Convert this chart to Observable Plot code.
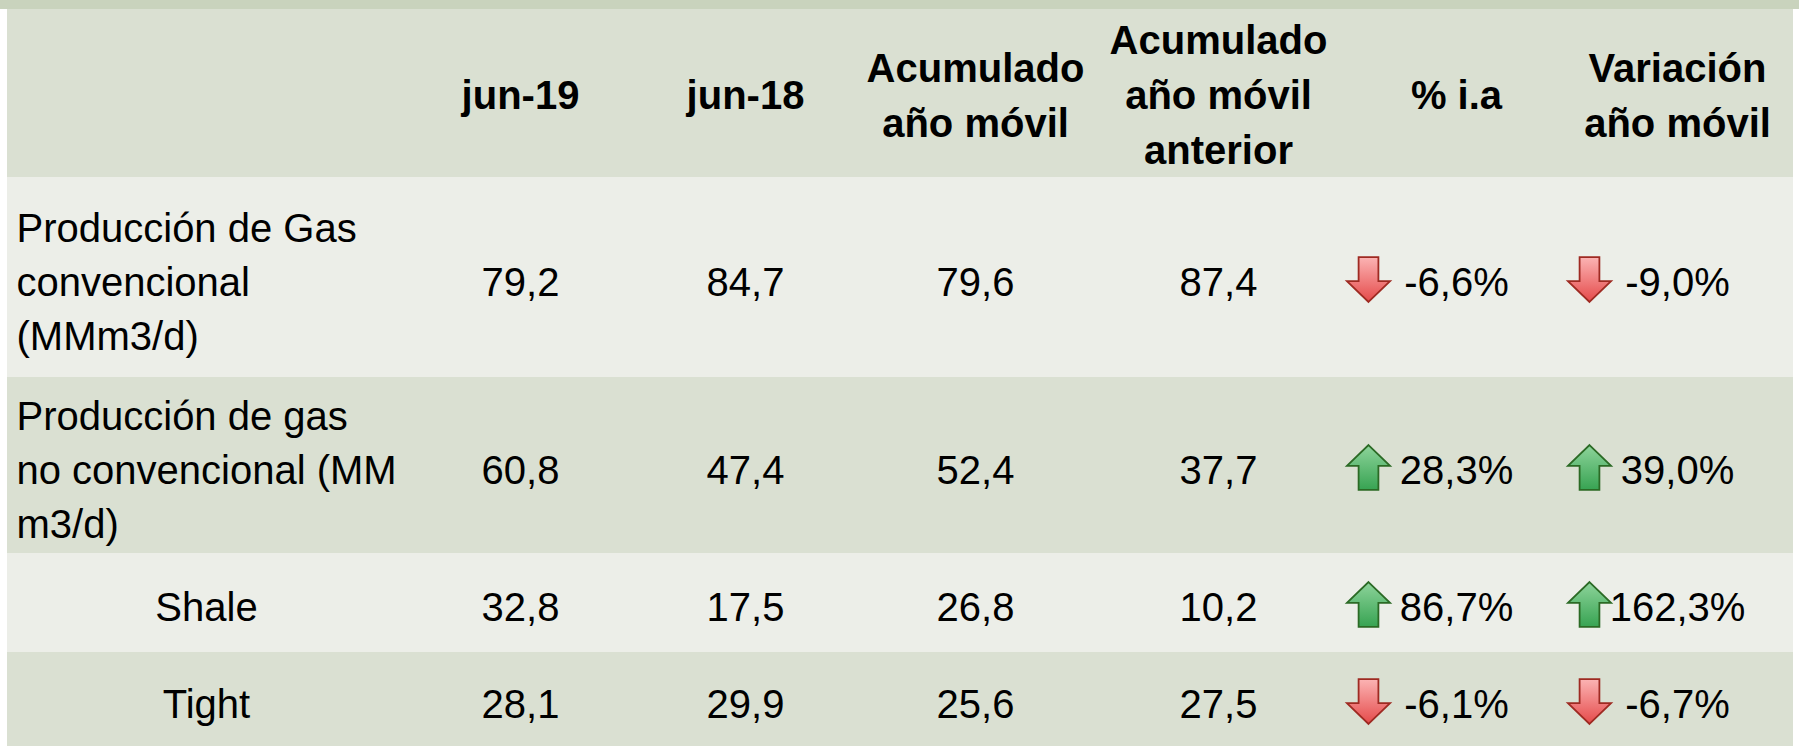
<!DOCTYPE html>
<html><head><meta charset="utf-8">
<script src="https://cdn.jsdelivr.net/npm/d3@7"></script>
<script src="https://cdn.jsdelivr.net/npm/@observablehq/plot@0.6"></script>
<style>
html,body{margin:0;padding:0;background:#fff;}
</style></head><body><div id="chart"></div>
<script>
// ---------- data ----------
const columnHeaders = ["", "jun-19", "jun-18", "Acumulado\naño móvil", "Acumulado\naño móvil\nanterior", "% i.a", "Variación\naño móvil"];
const rowLabels = ["Producción de Gas\nconvencional\n(MMm3/d)", "Producción de gas\nno convencional (MM\nm3/d)", "Shale", "Tight"];
const jun19 = [79.2, 60.8, 32.8, 28.1];
const jun18 = [84.7, 47.4, 17.5, 29.9];
const acumulado = [79.6, 52.4, 26.8, 25.6];
const acumuladoAnterior = [87.4, 37.7, 10.2, 27.5];
const pctIA = [-6.6, 28.3, 86.7, -6.1];
const variacionAnual = [-9.0, 39.0, 162.3, -6.7];

// ---------- layout ----------
const W = 1799, H = 746;
const tableX1 = 7, tableX2 = 1793;
const rowEdges = [9, 177, 377, 553, 652, 746];      // header + 4 rows
const rowTextY = [96, 283, 471, 608, 705];          // text middles (single-line)
const colCenters = [206, 520, 745, 975, 1218, 1456, 1677];
const labelLeft = 16;
const arrowDX = -88, arrowDY = -4;
const rowFills = ["#dae0d2", "#eceee8", "#dae0d2", "#eceee8", "#dae0d2"];
const topBandFill = "#c9d3bd";
const fontSize = 40, lhLabel = 1.35, lhHeader = 1.38;
// shift so that the middle line of a multi-line block sits where a single line would
const dyMulti = lh => -0.32 * fontSize * (lh - 1);

const fmtNum = v => v.toFixed(1).replace(".", ",");
const fmtPct = v => v.toFixed(1).replace(".", ",") + "%";

// ---------- derived tables ----------
const bands = rowFills.map((f, i) => ({x1: tableX1, x2: tableX2, y1: rowEdges[i], y2: rowEdges[i + 1], fill: f}));
bands.unshift({x1: 0, x2: W, y1: 0, y2: rowEdges[0], fill: topBandFill});

const headerCells = columnHeaders.map((t, j) => ({x: colCenters[j], y: rowTextY[0], text: t})).filter(d => d.text);

const labelsLeft = [], labelsCenter = [];
rowLabels.forEach((t, i) => {
  const d = {y: rowTextY[i + 1], text: t};
  if (i < 2) labelsLeft.push({...d, x: labelLeft}); else labelsCenter.push({...d, x: colCenters[0]});
});

const valueCells = [];
[jun19, jun18, acumulado, acumuladoAnterior].forEach((series, k) => {
  series.forEach((v, i) => valueCells.push({x: colCenters[k + 1], y: rowTextY[i + 1], text: fmtNum(v)}));
});
const pctCells = [], arrows = [];
[pctIA, variacionAnual].forEach((series, k) => {
  series.forEach((v, i) => {
    const cx = colCenters[k + 5], cy = rowTextY[i + 1];
    pctCells.push({x: cx, y: cy, text: fmtPct(v)});
    arrows.push({x: cx + arrowDX, y: cy + arrowDY, up: v >= 0});
  });
});

// ---------- arrow symbols ----------
function arrowSymbol(dir) {
  return {
    draw(ctx, size) {
      const r = Math.sqrt(size / Math.PI);
      const hw = r * 0.98, hh = r * 1.02, sw = r * 0.45, hb = -hh + r * 0.95;
      const s = dir; // 1 = up, -1 = down
      ctx.moveTo(0, -hh * s);
      ctx.lineTo(hw, hb * s);
      ctx.lineTo(sw, hb * s);
      ctx.lineTo(sw, hh * s);
      ctx.lineTo(-sw, hh * s);
      ctx.lineTo(-sw, hb * s);
      ctx.lineTo(-hw, hb * s);
      ctx.closePath();
    }
  };
}

const font = "'Liberation Sans', Arial, Helvetica, sans-serif";

const chart = Plot.plot({
  width: W, height: H, margin: 0,
  x: {type: "identity", axis: null},
  y: {type: "identity", axis: null},
  color: {type: "identity"},
  style: {fontFamily: font, background: "#fff", color: "#000"},
  marks: [
    Plot.rect(bands, {x1: "x1", x2: "x2", y1: "y1", y2: "y2", fill: "fill"}),
    Plot.text(headerCells, {x: "x", y: "y", text: "text", fontSize, fontWeight: "bold", lineAnchor: "middle", lineHeight: lhHeader, dy: dyMulti(lhHeader), textAnchor: "middle", fill: "#000"}),
    Plot.text(labelsLeft, {x: "x", y: "y", text: "text", fontSize, lineAnchor: "middle", lineHeight: lhLabel, dy: dyMulti(lhLabel), textAnchor: "start", fill: "#000"}),
    Plot.text(labelsCenter, {x: "x", y: "y", text: "text", fontSize, lineAnchor: "middle", textAnchor: "middle", fill: "#000"}),
    Plot.text(valueCells, {x: "x", y: "y", text: "text", fontSize, lineAnchor: "middle", textAnchor: "middle", fill: "#000"}),
    Plot.dot(arrows.filter(d => d.up), {x: "x", y: "y", r: 22, symbol: arrowSymbol(1), fill: "url(#gUp)", stroke: "#2b6a25", strokeWidth: 1.8}),
    Plot.dot(arrows.filter(d => !d.up), {x: "x", y: "y", r: 22, symbol: arrowSymbol(-1), fill: "url(#gDown)", stroke: "#9e2a22", strokeWidth: 1.8}),
    Plot.text(pctCells, {x: "x", y: "y", text: "text", fontSize, lineAnchor: "middle", textAnchor: "middle", fill: "#000"})
  ]
});

const defs = d3.select(chart).insert("defs", ":first-child");
const gu = defs.append("linearGradient").attr("id", "gUp").attr("x1", 0).attr("y1", 0).attr("x2", 0).attr("y2", 1);
gu.append("stop").attr("offset", 0).attr("stop-color", "#8ed49b");
gu.append("stop").attr("offset", 1).attr("stop-color", "#37a352");
const gd = defs.append("linearGradient").attr("id", "gDown").attr("x1", 0).attr("y1", 0).attr("x2", 0).attr("y2", 1);
gd.append("stop").attr("offset", 0).attr("stop-color", "#fbb4b4");
gd.append("stop").attr("offset", 1).attr("stop-color", "#e54a4a");

document.getElementById("chart").appendChild(chart);
</script>
</body></html>
